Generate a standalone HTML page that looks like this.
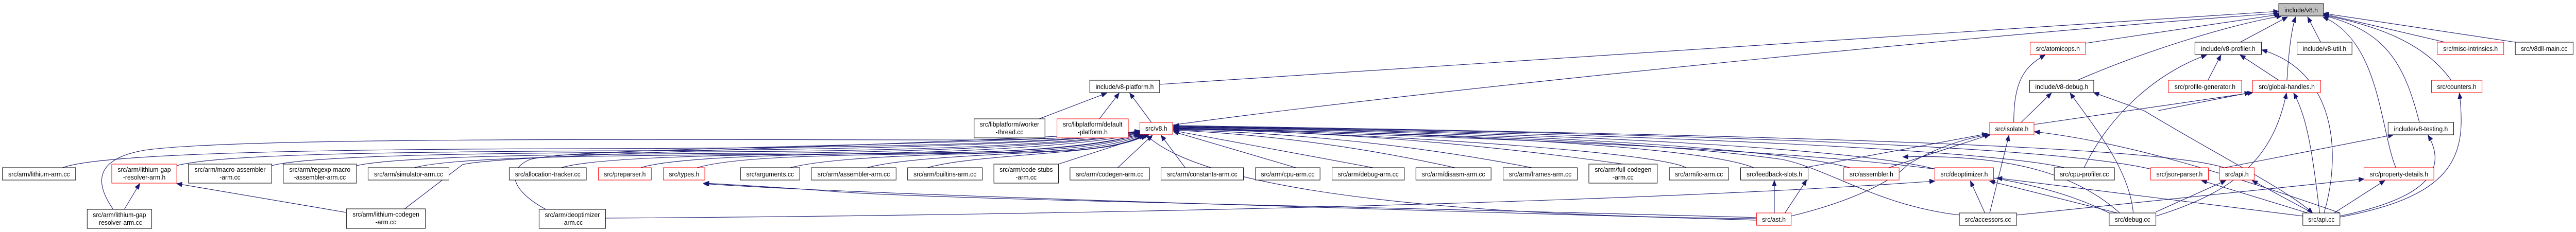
<!DOCTYPE html>
<html><head><meta charset="utf-8"><style>
html,body{margin:0;padding:0;background:#fff;width:100%;height:100%;overflow:hidden;}
svg{display:block;width:100vw;height:100vh;}
text{font-family:"Liberation Sans",Arial,sans-serif;font-size:13px;fill:#000;}
.e{fill:none;stroke:#191970;stroke-width:1.1;}
.n{fill:#fff;stroke:#000;stroke-width:1;}
.r{fill:#fff;stroke:#ff0000;stroke-width:1;}
</style></head><body>
<svg viewBox="0 0 5347 451" preserveAspectRatio="none" xmlns="http://www.w3.org/2000/svg">
<defs>
<marker id="a" markerUnits="userSpaceOnUse" markerWidth="12" markerHeight="9" refX="11" refY="4.5" orient="auto">
<path d="M0,0 L11,4.5 L0,9 z" fill="#191970" stroke="#191970"/>
</marker>
</defs>
<g marker-end="url(#a)">
<path class="e" d="M2407,164 L4730,22"/>
<path class="e" d="M2434,243 C3000,170 4200,60 4730,26"/>
<path class="e" d="M4329,84 L4732,28"/>
<path class="e" d="M4312,156 C4450,100 4620,50 4736,31"/>
<path class="e" d="M4650,82 L4748,33"/>
<path class="e" d="M4747,156 C4750,110 4755,60 4765,33"/>
<path class="e" d="M4817,82 L4790,33"/>
<path class="e" d="M4973,326 C4940,250 4940,80 4822,33"/>
<path class="e" d="M5022,238 C4990,120 4950,60 4823,30"/>
<path class="e" d="M5088,156 C5030,80 4930,50 4823,29"/>
<path class="e" d="M5075,82 L4823,27"/>
<path class="e" d="M5221,82 L4823,26"/>
<path class="e" d="M2157,231 L2297,181"/>
<path class="e" d="M2282,231 L2323,181"/>
<path class="e" d="M2390,238 L2345,181"/>
<path class="e" d="M130,326 C200,300 600,290 1200,289 C1800,288 2200,280 2366,255"/>
<path class="e" d="M367,322 C450,300 800,295 1300,293 C1900,291 2250,275 2366,256"/>
<path class="e" d="M564,322 C640,302 1000,297 1500,295 C2000,293 2270,275 2366,257"/>
<path class="e" d="M740,322 C820,305 1100,300 1550,298 C2000,296 2280,276 2366,258"/>
<path class="e" d="M860,326 C940,305 1250,302 1650,300 C2050,298 2290,278 2366,259"/>
<path class="e" d="M1165,326 C1250,302 1600,300 1900,298 C2150,296 2300,280 2367,260"/>
<path class="e" d="M1330,326 C1420,300 1750,300 2000,296 C2200,292 2310,278 2368,260"/>
<path class="e" d="M1447,326 C1540,300 1800,302 2050,297 C2230,292 2320,278 2370,261"/>
<path class="e" d="M1640,326 C1740,302 2000,300 2150,295 C2280,290 2340,275 2372,262"/>
<path class="e" d="M1800,326 C1880,305 2100,300 2230,292 C2310,286 2350,275 2375,262"/>
<path class="e" d="M1925,326 C2000,305 2200,300 2300,285 C2350,276 2370,268 2378,262"/>
<path class="e" d="M2197,319 L2385,262"/>
<path class="e" d="M2320,326 L2392,263"/>
<path class="e" d="M2460,326 L2410,263"/>
<path class="e" d="M2690,326 L2436,256"/>
<path class="e" d="M2850,326 L2436,254"/>
<path class="e" d="M3020,326 C2800,280 2600,260 2436,253"/>
<path class="e" d="M3180,326 C2900,275 2650,258 2436,252"/>
<path class="e" d="M3370,319 C3000,270 2700,255 2436,251"/>
<path class="e" d="M3500,326 C3450,300 3000,265 2436,250"/>
<path class="e" d="M3640,326 C3550,290 3100,260 2436,249"/>
<path class="e" d="M3840,326 C3700,290 3200,258 2436,248"/>
<path class="e" d="M4015,328 C3850,290 3300,258 2436,247"/>
<path class="e" d="M4285,326 C4150,295 3500,260 2436,246"/>
<path class="e" d="M4470,330 C4300,290 3700,262 2436,245"/>
<path class="e" d="M4617,326 C4500,290 3900,265 2436,244"/>
<path class="e" d="M235,407 C200,360 190,310 300,292 C500,265 1500,272 2000,272 C2200,272 2320,262 2366,254"/>
<path class="e" d="M840,406 L960,320 C1050,300 1700,290 2366,257"/>
<path class="e" d="M1133,407 C1060,370 1050,330 1100,310 C1200,285 2000,285 2368,259"/>
<path class="e" d="M3646,425 C3000,420 2500,370 2380,263"/>
<path class="e" d="M4067,418 C3900,400 3800,330 3700,310 C3400,270 2800,255 2436,251"/>
<path class="e" d="M4378,414 C4200,330 3900,290 2436,249"/>
<path class="e" d="M258,407 L290,357"/>
<path class="e" d="M719,413 L367,357"/>
<path class="e" d="M1257,424 C2000,420 3300,400 4016,352"/>
<path class="e" d="M3646,428 C3000,410 1800,380 1460,357"/>
<path class="e" d="M3646,423 C2800,400 1900,388 1700,370 C1550,360 1480,357 1461,356"/>
<path class="e" d="M3683,414 L3683,351"/>
<path class="e" d="M3705,414 L3750,350"/>
<path class="e" d="M3718,420 C3850,390 3930,350 3960,320 C4030,280 4100,265 4132,262"/>
<path class="e" d="M3745,326 L4125,260"/>
<path class="e" d="M3920,326 L4130,262"/>
<path class="e" d="M4130,414 L4170,263"/>
<path class="e" d="M4857,414 C4600,330 4400,275 4223,256"/>
<path class="e" d="M4180,238 C4180,160 4200,130 4245,107"/>
<path class="e" d="M4195,238 L4258,181"/>
<path class="e" d="M4222,242 L4676,180"/>
<path class="e" d="M4120,414 L4090,352"/>
<path class="e" d="M4186,418 L4907,348"/>
<path class="e" d="M4395,414 L4130,352"/>
<path class="e" d="M4428,414 C4420,330 4350,250 4297,181"/>
<path class="e" d="M4475,412 L4620,351"/>
<path class="e" d="M4475,420 C4650,370 4720,300 4746,181"/>
<path class="e" d="M4400,414 C4300,330 4150,300 3950,305"/>
<path class="e" d="M4790,414 L4570,351"/>
<path class="e" d="M4800,414 L4675,351"/>
<path class="e" d="M4845,414 L4950,351"/>
<path class="e" d="M4815,414 C4800,300 4790,230 4761,181"/>
<path class="e" d="M4824,414 C4860,300 4850,140 4695,97"/>
<path class="e" d="M4857,420 C4960,400 5100,360 5040,263"/>
<path class="e" d="M4857,422 C5100,380 5120,300 5105,181"/>
<path class="e" d="M4780,420 L4145,346"/>
<path class="e" d="M4450,215 L4346,180"/>
<path class="e" d="M4450,215 C4600,300 4750,370 4800,414"/>
<path class="e" d="M4326,326 C4380,220 4480,140 4580,107"/>
<path class="e" d="M4583,156 L4610,107"/>
<path class="e" d="M4730,156 L4650,107"/>
<path class="e" d="M4617,326 L4968,262"/>
<path class="e" d="M4480,215 L4670,180"/>
</g>
<g>
<rect x="4730" y="7" width="93" height="24" fill="#bfbfbf" stroke="#000"/><text x="4776.5" y="24" text-anchor="middle">include/v8.h</text>
<rect class="n" x="4556" y="82" width="138" height="24"/><text x="4625" y="99" text-anchor="middle">include/v8-profiler.h</text>
<rect class="n" x="4768" y="82" width="114" height="24"/><text x="4825" y="99" text-anchor="middle">include/v8-util.h</text>
<rect class="r" x="5059" y="82" width="138" height="24"/><text x="5128" y="99" text-anchor="middle">src/misc-intrinsics.h</text>
<rect class="n" x="5221" y="82" width="120" height="24"/><text x="5281" y="99" text-anchor="middle">src/v8dll-main.cc</text>
<rect class="r" x="4214" y="82" width="115" height="24"/><text x="4271.5" y="99" text-anchor="middle">src/atomicops.h</text>
<rect class="n" x="2262" y="156" width="145" height="24"/><text x="2334.5" y="173" text-anchor="middle">include/v8-platform.h</text>
<rect class="n" x="4213" y="156" width="133" height="24"/><text x="4279.5" y="173" text-anchor="middle">include/v8-debug.h</text>
<rect class="r" x="4501" y="156" width="152" height="24"/><text x="4577" y="173" text-anchor="middle">src/profile-generator.h</text>
<rect class="r" x="4676" y="156" width="141" height="24"/><text x="4746.5" y="173" text-anchor="middle">src/global-handles.h</text>
<rect class="r" x="5047" y="156" width="105" height="24"/><text x="5099.5" y="173" text-anchor="middle">src/counters.h</text>
<rect class="n" x="2022" y="231" width="147" height="37"/><text x="2095.5" y="246" text-anchor="middle">src/libplatform/worker</text><text x="2095.5" y="261" text-anchor="middle">-thread.cc</text>
<rect class="r" x="2194" y="231" width="148" height="37"/><text x="2268" y="246" text-anchor="middle">src/libplatform/default</text><text x="2268" y="261" text-anchor="middle">-platform.h</text>
<rect class="r" x="2366" y="238" width="68" height="23"/><text x="2400" y="254" text-anchor="middle">src/v8.h</text>
<rect class="r" x="4130" y="238" width="92" height="24"/><text x="4176" y="255" text-anchor="middle">src/isolate.h</text>
<rect class="n" x="4957" y="238" width="136" height="24"/><text x="5025" y="255" text-anchor="middle">include/v8-testing.h</text>
<rect class="n" x="5" y="326" width="152" height="24"/><text x="81" y="343" text-anchor="middle">src/arm/lithium-arm.cc</text>
<rect class="r" x="232" y="319" width="135" height="37"/><text x="299.5" y="334" text-anchor="middle">src/arm/lithium-gap</text><text x="299.5" y="349" text-anchor="middle">-resolver-arm.h</text>
<rect class="n" x="391" y="319" width="173" height="37"/><text x="477.5" y="334" text-anchor="middle">src/arm/macro-assembler</text><text x="477.5" y="349" text-anchor="middle">-arm.cc</text>
<rect class="n" x="588" y="319" width="152" height="37"/><text x="664" y="334" text-anchor="middle">src/arm/regexp-macro</text><text x="664" y="349" text-anchor="middle">-assembler-arm.cc</text>
<rect class="n" x="764" y="326" width="168" height="24"/><text x="848" y="343" text-anchor="middle">src/arm/simulator-arm.cc</text>
<rect class="n" x="1057" y="326" width="160" height="24"/><text x="1137" y="343" text-anchor="middle">src/allocation-tracker.cc</text>
<rect class="r" x="1242" y="326" width="110" height="24"/><text x="1297" y="343" text-anchor="middle">src/preparser.h</text>
<rect class="r" x="1377" y="326" width="86" height="24"/><text x="1420" y="343" text-anchor="middle">src/types.h</text>
<rect class="n" x="1537" y="326" width="123" height="24"/><text x="1598.5" y="343" text-anchor="middle">src/arguments.cc</text>
<rect class="n" x="1684" y="326" width="176" height="24"/><text x="1772" y="343" text-anchor="middle">src/arm/assembler-arm.cc</text>
<rect class="n" x="1884" y="326" width="155" height="24"/><text x="1961.5" y="343" text-anchor="middle">src/arm/builtins-arm.cc</text>
<rect class="n" x="2063" y="319" width="134" height="37"/><text x="2130" y="334" text-anchor="middle">src/arm/code-stubs</text><text x="2130" y="349" text-anchor="middle">-arm.cc</text>
<rect class="n" x="2221" y="326" width="165" height="24"/><text x="2303.5" y="343" text-anchor="middle">src/arm/codegen-arm.cc</text>
<rect class="n" x="2410" y="326" width="171" height="24"/><text x="2495.5" y="343" text-anchor="middle">src/arm/constants-arm.cc</text>
<rect class="n" x="2606" y="326" width="134" height="24"/><text x="2673" y="343" text-anchor="middle">src/arm/cpu-arm.cc</text>
<rect class="n" x="2765" y="326" width="150" height="24"/><text x="2840" y="343" text-anchor="middle">src/arm/debug-arm.cc</text>
<rect class="n" x="2939" y="326" width="156" height="24"/><text x="3017" y="343" text-anchor="middle">src/arm/disasm-arm.cc</text>
<rect class="n" x="3120" y="326" width="154" height="24"/><text x="3197" y="343" text-anchor="middle">src/arm/frames-arm.cc</text>
<rect class="n" x="3298" y="319" width="142" height="37"/><text x="3369" y="334" text-anchor="middle">src/arm/full-codegen</text><text x="3369" y="349" text-anchor="middle">-arm.cc</text>
<rect class="n" x="3465" y="326" width="123" height="24"/><text x="3526.5" y="343" text-anchor="middle">src/arm/ic-arm.cc</text>
<rect class="n" x="3613" y="326" width="140" height="24"/><text x="3683" y="343" text-anchor="middle">src/feedback-slots.h</text>
<rect class="r" x="3827" y="326" width="115" height="24"/><text x="3884.5" y="343" text-anchor="middle">src/assembler.h</text>
<rect class="r" x="4016" y="326" width="122" height="24"/><text x="4077" y="343" text-anchor="middle">src/deoptimizer.h</text>
<rect class="n" x="4264" y="326" width="125" height="24"/><text x="4326.5" y="343" text-anchor="middle">src/cpu-profiler.cc</text>
<rect class="r" x="4464" y="326" width="120" height="24"/><text x="4524" y="343" text-anchor="middle">src/json-parser.h</text>
<rect class="r" x="4607" y="326" width="72" height="24"/><text x="4643" y="343" text-anchor="middle">src/api.h</text>
<rect class="r" x="4907" y="326" width="145" height="24"/><text x="4979.5" y="343" text-anchor="middle">src/property-details.h</text>
<rect class="n" x="181" y="407" width="134" height="37"/><text x="248" y="422" text-anchor="middle">src/arm/lithium-gap</text><text x="248" y="437" text-anchor="middle">-resolver-arm.cc</text>
<rect class="n" x="719" y="406" width="164" height="38"/><text x="801" y="421" text-anchor="middle">src/arm/lithium-codegen</text><text x="801" y="436" text-anchor="middle">-arm.cc</text>
<rect class="n" x="1119" y="407" width="138" height="37"/><text x="1188" y="422" text-anchor="middle">src/arm/deoptimizer</text><text x="1188" y="437" text-anchor="middle">-arm.cc</text>
<rect class="r" x="3646" y="414" width="72" height="24"/><text x="3682" y="431" text-anchor="middle">src/ast.h</text>
<rect class="n" x="4067" y="414" width="119" height="24"/><text x="4126.5" y="431" text-anchor="middle">src/accessors.cc</text>
<rect class="n" x="4378" y="414" width="97" height="24"/><text x="4426.5" y="431" text-anchor="middle">src/debug.cc</text>
<rect class="n" x="4780" y="414" width="77" height="24"/><text x="4818.5" y="431" text-anchor="middle">src/api.cc</text>
</g>
</svg>
</body></html>
